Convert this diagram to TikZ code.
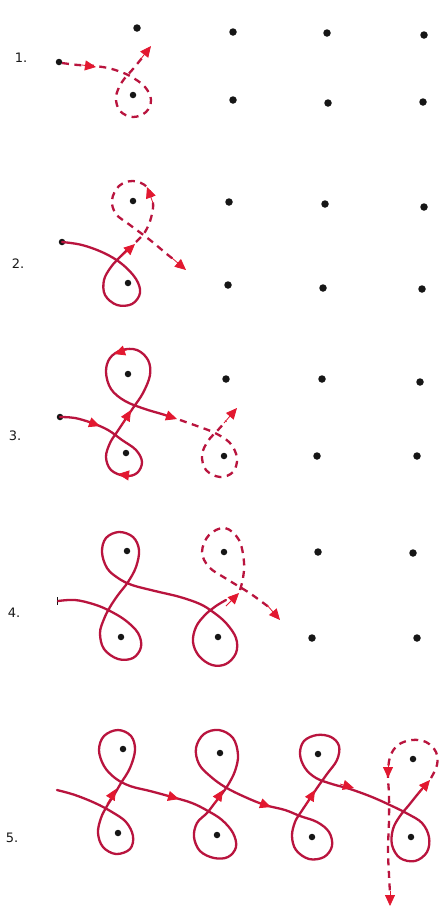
\documentclass[tikz,border=0pt]{standalone}
\usepackage{fontspec}
\setmainfont{DejaVu Sans}
\usetikzlibrary{arrows.meta}
\definecolor{ink}{RGB}{185,20,62}
\definecolor{tipred}{RGB}{226,24,48}
\definecolor{dotc}{RGB}{22,22,22}
\tikzset{
  dotnode/.style={circle, fill=dotc, inner sep=0pt, minimum size=7.5pt},
  smalldot/.style={circle, fill=dotc, inner sep=0pt, minimum size=6.5pt},
  thread/.style={draw=ink, line width=2.3pt, line cap=round, line join=round},
  dthread/.style={draw=ink, line width=2.3pt, line cap=butt, dash pattern=on 7pt off 5.5pt},
  arrowhd/.style={draw=tipred, line width=0.8pt, -{Triangle[length=11pt,width=10pt,fill=tipred]}},
  lbl/.style={font=\fontsize{13}{15}\selectfont, text=black!90},
  smoothpl/.style={smooth, tension=0.6}
}
\begin{document}
\begin{tikzpicture}[x=1pt,y=-1pt]
\useasboundingbox[fill=white] (0,0) rectangle (445,908);

% ---------- labels ----------
\node[lbl] (l1) at (21,58) {1.};
\node[lbl] (l2) at (18,264) {2.};
\node[lbl] (l3) at (15,436) {3.};
\node[lbl] (l4) at (14,613) {4.};
\node[lbl] (l5) at (12,838) {5.};

% ---------- grid dots ----------
\foreach \x/\y [count=\i] in {
  233/32, 327/33, 424/35, 233/100, 328/103, 423/102,
  229/202, 325/204, 424/207, 228/285, 323/288, 422/289,
  226/379, 322/379, 420/382, 317/456, 417/456,
  318/552, 413/553, 312/638, 417/638}
  \node[dotnode] (g\i) at (\x,\y) {};

% ---------- step 1 ----------
\node[smalldot] (s1) at (59,62) {};
\node[dotnode] (a1t) at (137,28) {};
\node[smalldot] (a1b) at (133,95) {};
\draw[dthread] plot[smoothpl] coordinates {(62,63) (78,65) (95,66) (112,69) (130,76) (145,87) (151,100) (146,112) (133,117) (120,111) (116,97) (122,82) (133,69) (142,58)};
\draw[arrowhd] (82,65) -- (96,67);
\draw[arrowhd] (140,60) -- (151,46);

% ---------- step 2 ----------
\node[smalldot] (s2) at (62,242) {};
\node[smalldot] (a2t) at (133,201) {};
\node[smalldot] (a2b) at (128,283) {};
\draw[thread] plot[smoothpl] coordinates {(62,242) (82,245) (104,253) (122,264) (136,279) (140,293) (132,304) (117,305) (105,295) (104,280) (111,267) (120,257) (126,251)};
\draw[arrowhd] (122,256) -- (135,244);
\draw[dthread] plot[smoothpl] coordinates {(136,242) (145,232) (151,218) (153,202) (147,187) (133,181) (119,186) (112,200) (116,214) (130,225) (150,240) (168,255) (176,261)};
\draw[arrowhd] (153,203) -- (147,187);
\draw[arrowhd] (172,258) -- (186,270);

% ---------- step 3 ----------
\node[smalldot] (s3) at (60,417) {};
\node[smalldot] (a3t) at (128,374) {};
\node[smalldot] (a3b) at (126,453) {};
\node[smalldot] (a3c) at (224,456) {};
\draw[thread] plot[smoothpl] coordinates {(60,417) (75,418) (92,423) (108,430) (122,440) (136,450) (142,462) (137,473) (125,476) (111,470) (106,457) (110,443) (117,432) (125,420) (133,408) (143,393) (150,375) (148,360) (137,350) (122,350) (110,358) (106,372) (111,389) (125,401) (145,409) (165,415) (172,418)};
\draw[arrowhd] (86,421) -- (100,426);
\draw[arrowhd] (133,476) -- (118,474);
\draw[arrowhd] (122,425) -- (131,410);
\draw[arrowhd] (129,349) -- (114,354);
\draw[arrowhd] (162,414) -- (177,419);
\draw[dthread] plot[smoothpl] coordinates {(180,420) (197,426) (215,433) (230,443) (237,458) (233,472) (220,477) (206,470) (202,455) (208,441) (218,430) (226,421)};
\draw[arrowhd] (224,423) -- (237,408);

% ---------- step 4 ----------
\draw[draw=dotc, line width=1.8pt] (57.5,597) -- (57.5,605);
\coordinate (s4) at (58,601);
\node[smalldot] (a4t) at (127,551) {};
\node[smalldot] (a4b) at (121,637) {};
\node[smalldot] (b4t) at (224,552) {};
\node[smalldot] (b4b) at (218,637) {};
\draw[thread] plot[smoothpl] coordinates {(58,601) (75,600) (93,604) (108,610) (125,620) (138,633) (141,647) (133,658) (118,659) (104,649) (100,633) (104,619) (110,607) (118,595) (128,582) (136,567) (139,550) (133,537) (119,532) (106,538) (102,552) (107,568) (118,578) (132,585) (155,591) (180,597) (200,604) (213,612) (226,623) (236,638) (236,653) (226,664) (212,665) (199,656) (193,642) (196,627) (205,615) (216,606) (226,600)};
\draw[arrowhd] (226,606) -- (239,593);
\draw[dthread] plot[smoothpl] coordinates {(240,590) (243,578) (244,562) (239,540) (225,528) (209,535) (202,552) (209,567) (225,578) (248,592) (262,602) (270,608)};
\draw[arrowhd] (267,605) -- (280,620);

% ---------- step 5 ----------
\node[smalldot] (a5t) at (123,749) {};
\node[smalldot] (a5b) at (118,833) {};
\node[smalldot] (b5t) at (220,753) {};
\node[smalldot] (b5b) at (217,835) {};
\node[smalldot] (c5t) at (318,754) {};
\node[smalldot] (c5b) at (312,837) {};
\node[smalldot] (d5t) at (413,759) {};
\node[smalldot] (d5b) at (411,837) {};
\draw[thread] plot[smoothpl] coordinates {(57,790) (75,795) (95,803) (112,812) (126,822) (133,836) (130,849) (116,854) (103,847) (98,833) (101,818) (107,806) (114,795) (121,783) (130,768) (135,750) (131,736) (118,730) (104,736) (99,750) (104,766) (115,778) (130,786) (150,791) (172,797) (192,803) (208,811) (222,820) (233,833) (236,847) (228,857) (214,858) (200,851) (194,837) (197,823) (207,813) (214,804) (221,795) (228,785) (235,771) (238,755) (233,738) (219,730) (204,734) (196,748) (199,764) (210,776) (225,787) (245,797) (265,805) (285,810) (300,816) (317,822) (329,832) (332,846) (324,857) (309,859) (296,850) (292,836) (295,822) (301,812) (309,800) (317,788) (327,774) (337,760) (339,746) (331,737) (317,735) (304,741) (300,754) (305,768) (316,778) (332,784) (350,789) (372,797) (392,806) (408,814) (422,823) (429,837) (427,852) (415,861) (400,858) (392,845) (393,829) (400,816) (409,805) (417,795) (422,789)};
\draw[arrowhd] (107,804) -- (116,789);
\draw[arrowhd] (165,795) -- (179,799);
\draw[arrowhd] (214,804) -- (223,790);
\draw[arrowhd] (257,802) -- (271,807);
\draw[arrowhd] (306,805) -- (315,790);
\draw[arrowhd] (340,784) -- (354,788);
\draw[arrowhd] (418,794) -- (430,780);
\draw[dthread] plot[smoothpl] coordinates {(431,778) (437,765) (436,752) (426,742) (412,740) (398,745) (390,757) (388,775) (389,795) (389,820) (388,850) (389,875) (390,893)};
\draw[arrowhd] (388,763) -- (388,778);
\draw[arrowhd] (390,891) -- (390,906);
\end{tikzpicture}
\end{document}
